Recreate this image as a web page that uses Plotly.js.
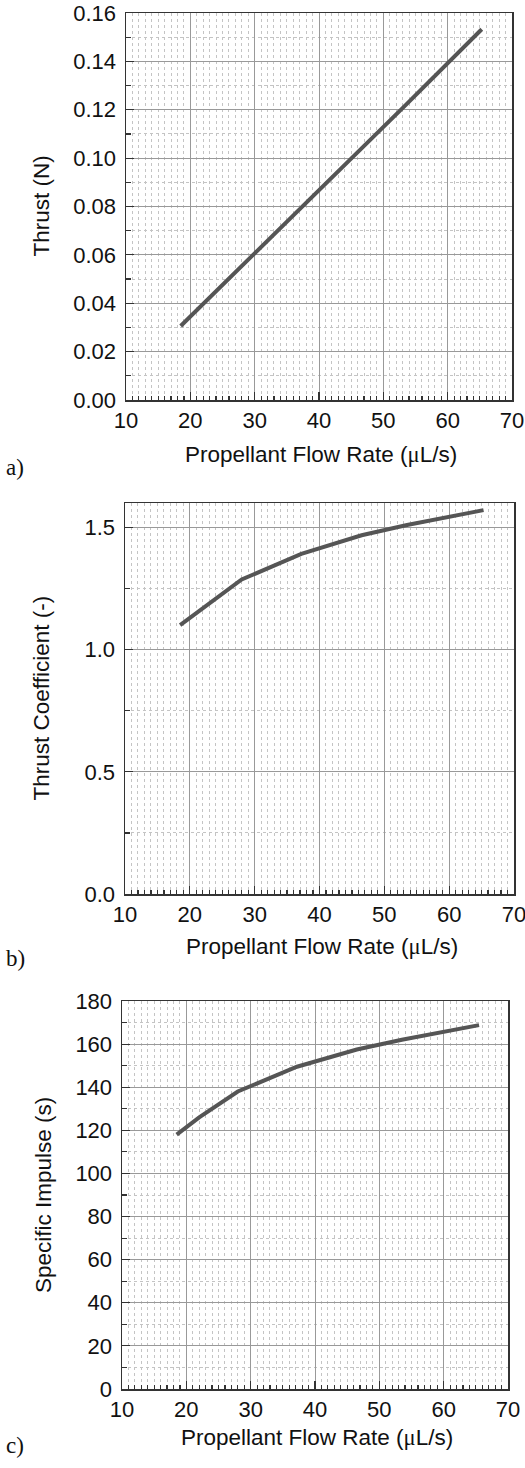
<!DOCTYPE html>
<html>
<head>
<meta charset="utf-8">
<script src="https://cdn.plot.ly/plotly-3.0.1.min.js"></script>
<style>html,body{margin:0;padding:0;background:#fff;}</style>
</head>
<body>
<div id="chart" style="width:525px;height:1468px;"></div>
<script>
// Data
const flowRate = [18.5, 28.0, 37.2, 46.5, 53.5, 65.3];
const thrust = [0.0306, 0.0553, 0.0793, 0.1035, 0.1220, 0.1533];
const thrustCoefficient = [1.100, 1.287, 1.392, 1.468, 1.510, 1.571];
const impulseFlow = [18.5, 22.0, 28.0, 37.2, 46.5, 53.5, 65.5];
const specificImpulse = [118.0, 126.0, 138.0, 149.5, 157.5, 162.0, 168.8];

const xTitle = 'Propellant Flow Rate (<span style="font-family:\'Liberation Serif\',serif">μ</span>L/s)';
const yTitles = ['Thrust (N)', 'Thrust Coefficient (-)', 'Specific Impulse (s)'];
const panelLabels = ['a)', 'b)', 'c)'];

const W = 525, H = 1468;
const px = v => v / W;
const py = v => 1 - v / H;

// panel boxes in pixels [left, right, top, bottom]
const boxes = [
  [126, 512, 13, 400],
  [125, 514, 503, 894],
  [122, 508, 1001, 1389]
];
const yRanges = [[0, 0.16], [0, 1.6], [0, 180]];
const yDticks = [0.02, 0.5, 20];
const yFormats = ['.2f', '.1f', 'd'];

const tickFont = {family: 'Liberation Sans, Arial, sans-serif', size: 22, color: '#111'};
const titleFont = {family: 'Liberation Sans, Arial, sans-serif', size: 22.5, color: '#111'};

function xAxis(i) {
  const b = boxes[i];
  return {
    domain: [px(b[0]), px(b[1])],
    anchor: 'y' + (i === 0 ? '' : i + 1),
    range: [10, 70], dtick: 10, tick0: 10,
    showline: true, mirror: true, linecolor: '#333', linewidth: 1.5,
    ticks: 'inside', ticklen: 8, tickcolor: '#333', tickwidth: 1.2,
    showgrid: true, gridcolor: '#999999', gridwidth: 1,
    zeroline: false, tickfont: tickFont, ticklabeloverflow: 'allow',
    minor: {dtick: 1, ticks: 'inside', ticklen: 4, tickcolor: '#333',
            showgrid: true, gridcolor: '#c4c4c4', griddash: 'dot', gridwidth: 1},
    fixedrange: true
  };
}
function yAxis(i) {
  const b = boxes[i];
  return {
    domain: [py(b[3]), py(b[2])],
    anchor: 'x' + (i === 0 ? '' : i + 1),
    range: yRanges[i], dtick: yDticks[i], tick0: 0, tickformat: yFormats[i],
    showline: true, mirror: true, linecolor: '#333', linewidth: 1.5,
    ticks: 'inside', ticklen: 8, tickcolor: '#333', tickwidth: 1.2,
    showgrid: true, gridcolor: '#999999', gridwidth: 1,
    zeroline: false, tickfont: tickFont, ticklabelstandoff: 4,
    minor: {dtick: yDticks[i] / 2, ticks: 'inside', ticklen: 5, tickcolor: '#333',
            showgrid: true, gridcolor: '#c4c4c4', griddash: 'dot', gridwidth: 1},
    fixedrange: true
  };
}

const lineStyle = {color: '#555555', width: 4};
const traces = [
  {x: flowRate, y: thrust, xaxis: 'x', yaxis: 'y'},
  {x: flowRate, y: thrustCoefficient, xaxis: 'x2', yaxis: 'y2'},
  {x: impulseFlow, y: specificImpulse, xaxis: 'x3', yaxis: 'y3'}
].map(t => Object.assign(t, {type: 'scatter', mode: 'lines', line: lineStyle, hoverinfo: 'skip'}));

const annotations = [];
const xTitleY = [454, 947, 1437];
const panelY = [467, 958, 1445];
const yTitleX = [41, 41, 43];
for (let i = 0; i < 3; i++) {
  const b = boxes[i];
  annotations.push({xref: 'paper', yref: 'paper', x: px((b[0] + b[1]) / 2 + 2), y: py(xTitleY[i]),
    text: xTitle, showarrow: false, font: titleFont, xanchor: 'center', yanchor: 'middle'});
  annotations.push({xref: 'paper', yref: 'paper', x: px(yTitleX[i]), y: py((b[2] + b[3]) / 2),
    text: yTitles[i], showarrow: false, font: titleFont, textangle: -90, xanchor: 'center', yanchor: 'middle'});
  annotations.push({xref: 'paper', yref: 'paper', x: px(4), y: py(panelY[i]),
    text: panelLabels[i], showarrow: false, xanchor: 'left', yanchor: 'middle',
    font: {family: 'Liberation Serif, Times New Roman, serif', size: 23, color: '#111'}});
}

const layout = {
  width: W, height: H,
  margin: {l: 0, r: 0, t: 0, b: 0},
  paper_bgcolor: '#fff', plot_bgcolor: '#fff',
  showlegend: false,
  font: tickFont,
  xaxis: xAxis(0), yaxis: yAxis(0),
  xaxis2: xAxis(1), yaxis2: yAxis(1),
  xaxis3: xAxis(2), yaxis3: yAxis(2),
  annotations: annotations
};

Plotly.newPlot('chart', traces, layout, {displayModeBar: false, staticPlot: true});
</script>
</body>
</html>
